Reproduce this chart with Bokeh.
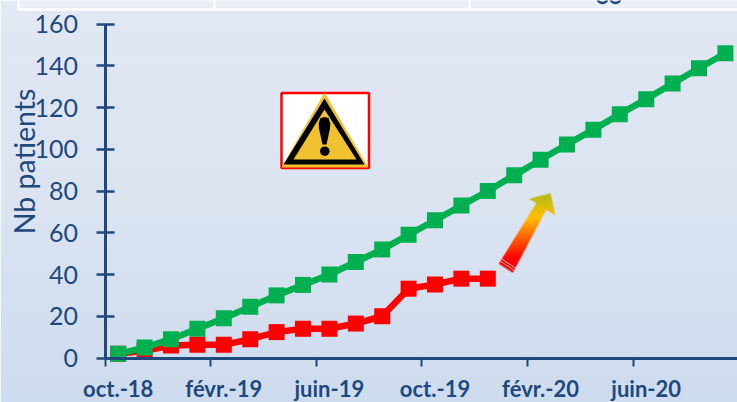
import numpy as np
from bokeh.embed import file_html
from bokeh.resources import INLINE
from bokeh.plotting import figure
from bokeh.models import LinearAxis, FixedTicker, Range1d, Label

months = ["oct.-18","nov.-18","déc.-18","janv.-19","févr.-19","mars-19","avr.-19","mai-19","juin-19","juil.-19",
          "août-19","sept.-19","oct.-19","nov.-19","déc.-19","janv.-20","févr.-20","mars-20","avr.-20","mai-20",
          "juin-20","juil.-20","août-20","sept.-20"]
green = [2,5,9,14,19,24.5,30,35,40,46,52,59,66,73,80,87.5,95,102.3,109.4,116.8,124,131.5,138.8,146]
red = [2,3.5,6,6.3,6.3,9,12.4,14,14,16.5,20,33.2,35.2,38,38]
y_ticks = [0,20,40,60,80,100,120,140,160]
label_every = 4
y_title = "Nb patients"

W, H = 737, 402
X0, DX = 104.5, 26.4      # pixel of the category axis start, pixels per month
Y0, DY = 357.5, 2.0875    # pixel of value 0, pixels per unit
BLUE = "#1F497D"

def X(px): return (np.asarray(px, float) - X0) / DX - 0.5
def Y(py): return (Y0 - np.asarray(py, float)) / DY

p = figure(width=W, height=H, output_backend="svg", toolbar_location=None,
           x_range=Range1d(float(X(0)), float(X(W))), y_range=Range1d(float(Y(H)), float(Y(0))),
           x_axis_type=None, y_axis_type=None, min_border=0, outline_line_color=None)
p.grid.visible = False
p.styles = {"position": "absolute", "left": "0px", "top": "0px"}

# background gradient
stops_y = np.array([0, 60, 200, 402.0])
stops_c = np.array([[228,234,244],[224,230,242],[220,228,242],[205,220,238]], float)
rows = np.arange(H)
grad = np.stack([np.interp(rows, stops_y, stops_c[:, i]) for i in range(3)], axis=1).astype(np.uint32)
bg = (255 << 24) | (grad[:, 2] << 16) | (grad[:, 1] << 8) | grad[:, 0]
bg = bg[::-1].reshape(H, 1).astype(np.uint32)
p.image_rgba(image=[bg], x=float(X(0)), y=float(Y(H)), dw=float(X(W) - X(0)), dh=float(Y(0) - Y(H)), level="image")

# top table band
p.quad(left=float(X(17)), right=float(X(W)), top=float(Y(0)), bottom=float(Y(9)), fill_color="#E9EEF7", line_color=None)
p.segment(x0=float(X(17)), x1=float(X(W)), y0=float(Y(9)), y1=float(Y(9)), line_color="white", line_width=2.5)
p.segment(x0=[float(X(v)) for v in (18, 214, 469)], x1=[float(X(v)) for v in (18, 214, 469)],
          y0=float(Y(0)), y1=float(Y(9)), line_color="white", line_width=2.5)
# descender fragments of the cropped-away heading
p.arc(x=X([602, 615]).tolist(), y=[float(Y(-2.5))]*2, radius=5, radius_units="screen",
      start_angle=np.pi, end_angle=2*np.pi, line_color=BLUE, line_width=2.5)

# axes inside the frame
yax = LinearAxis(ticker=FixedTicker(ticks=y_ticks), fixed_location=-0.5, bounds=(0, 160),
                 axis_line_color=BLUE, axis_line_width=3, major_tick_line_color=BLUE, major_tick_line_width=2.5,
                 major_tick_in=9, major_tick_out=9, minor_tick_line_color=None,
                 major_label_text_color=BLUE, major_label_text_font="Lato", major_label_text_font_size="25px",
                 major_label_standoff=18)
p.add_layout(yax, "left")
tick_pos = [i - 0.5 for i in range(0, len(months) + 1, label_every)]
xax = LinearAxis(ticker=FixedTicker(ticks=tick_pos), fixed_location=0, bounds=(-0.5, 24),
                 axis_line_color=BLUE, axis_line_width=3, major_tick_line_color=BLUE, major_tick_line_width=2,
                 major_tick_in=0, major_tick_out=8, minor_tick_line_color=None, major_label_text_color=None,
                 major_label_text_font_size="1px")
p.add_layout(xax, "below")
lab_pos = list(range(0, len(months), label_every))
xlab = LinearAxis(ticker=FixedTicker(ticks=lab_pos), fixed_location=0,
                  major_label_overrides={i: months[i] for i in lab_pos},
                  axis_line_color=None, major_tick_line_color=None, minor_tick_line_color=None,
                  major_tick_in=0, major_tick_out=0,
                  major_label_text_color=BLUE, major_label_text_font="Lato", major_label_text_font_style="bold",
                  major_label_text_font_size="22px", major_label_standoff=17)
p.add_layout(xlab, "below")

p.add_layout(Label(x=float(X(23)), y=float(Y(161)), text=y_title, angle=90, angle_units="deg",
                   text_color=BLUE, text_font="Lato", text_font_size="28.5px",
                   text_align="center", text_baseline="middle"))

# warning icon
p.quad(left=float(X(281)), right=float(X(368.5)), top=float(Y(92.5)), bottom=float(Y(167.5)),
       fill_color="white", line_color="#FF0000", line_width=2.5)
p.patch(x=X([324, 368, 281]).tolist(), y=Y([92, 167, 167]).tolist(), fill_color="#F0C230", line_color=None)
p.patch(x=X([324, 364, 283]).tolist(), y=Y([98, 164, 164]).tolist(), fill_color="black", line_color=None)
p.patch(x=X([324, 356, 293]).tolist(), y=Y([109, 159, 159]).tolist(), fill_color="#F0C230", line_color=None)
p.patch(x=X([324, 328, 329.8, 329.5, 326, 322, 318.5, 318.2, 320]).tolist(),
        y=Y([116.5, 117.5, 123, 128, 144, 144, 128, 123, 117.5]).tolist(), fill_color="black", line_color=None)
p.scatter(x=[float(X(324.3))], y=[float(Y(150.7))], size=9.5, marker="circle", fill_color="black", line_color=None)

# gradient arrow
poly = np.array([(498.3,263.3),(535.7,202.7),(528.3,198.3),(550,192.7),(555,215),(545.7,209.3),(512.3,272.3)])
def inside(px, py):
    c = np.zeros(px.shape, bool)
    for i in range(len(poly)):
        (x1, y1), (x2, y2) = poly[i], poly[i-1]
        cond = (y1 > py) != (y2 > py)
        with np.errstate(divide="ignore", invalid="ignore"):
            c ^= cond & (px < (x2-x1)*(py-y1)/(y2-y1) + x1)
    return c
ax0, ax1, ay0, ay1 = 490, 565, 185, 280
ss = 4
gx, gy = np.meshgrid((np.arange((ax1-ax0)*ss)+.5)/ss+ax0, (np.arange((ay1-ay0)*ss)+.5)/ss+ay0)
alpha = inside(gx, gy).astype(float).reshape(ay1-ay0, ss, ax1-ax0, ss).mean(axis=(1, 3))
yy = np.arange(ay0, ay1) + .5
ys = [192, 200, 217, 258, 280]
cs = np.array([[178,188,28],[200,186,20],[255,192,0],[255,0,0],[255,0,0]], float)
rgb = np.stack([np.interp(yy, ys, cs[:, i]) for i in range(3)], axis=1).astype(np.uint32)
A = (alpha * 255).astype(np.uint32)
img = (A << 24) | (rgb[:, 2][:, None] << 16) | (rgb[:, 1][:, None] << 8) | rgb[:, 0][:, None]
p.image_rgba(image=[img[::-1].astype(np.uint32)], x=float(X(ax0)), y=float(Y(ay1)),
             dw=float(X(ax1) - X(ax0)), dh=float(Y(ay0) - Y(ay1)))
p.segment(x0=X([500.3, 501.6]).tolist(), x1=X([513.8, 515.1]).tolist(),
          y0=Y([261.0, 258.8]).tolist(), y1=Y([269.8, 267.6]).tolist(), line_color="#FFC8C8", line_width=0.9)

# data
xr = list(range(len(red)))
xg = list(range(len(green)))
p.line(xr, red, line_color="#FF0000", line_width=6.5)
p.scatter(xr, red, marker="square", size=16, fill_color="#FF0000", line_color=None)
p.line(xg, green, line_color="#00B050", line_width=6.5)
p.scatter(xg, green, marker="square", size=16, fill_color="#00B050", line_color=None)

open("out.html", "w").write(file_html(p, INLINE))
